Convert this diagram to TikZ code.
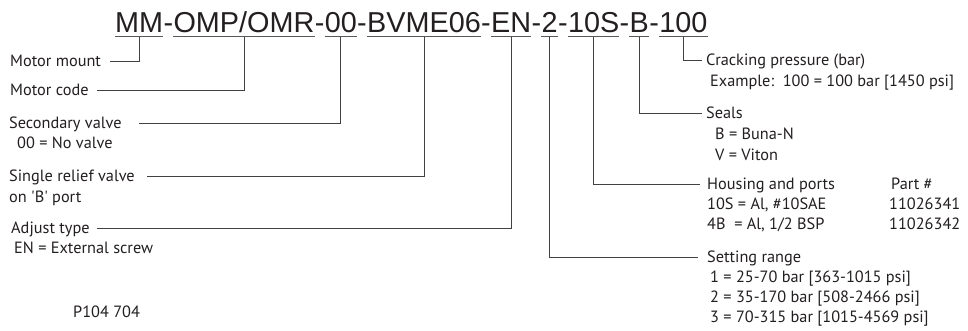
\documentclass[tikz,border=0pt]{standalone}
\usepackage{fontspec}
\newfontfamily\lblfont{PT Sans}
\newfontfamily\titlefont{Liberation Sans}
\definecolor{ink}{HTML}{231F20}
\begin{document}
\begin{tikzpicture}[x=1pt,y=-1pt,
  seg/.style={inner sep=0pt, anchor=base west, text=ink, font=\titlefont\fontsize{28.8}{30}\selectfont},
  lbl/.style={inner sep=0pt, anchor=west, text=ink, font=\lblfont\fontsize{16.3}{18}\selectfont, text height=12pt, text depth=1pt},
  lead/.style={line width=0.9pt, draw=ink!85},
  uline/.style={line width=0.9pt, draw=ink!75}]
\useasboundingbox[fill=white] (0,0) rectangle (968,330);
% code string
\node[seg] (s1) at (115,32) {MM};
\node[seg] (d1) at (s1.base east) {-};
\node[seg] (s2) at (d1.base east) {OMP/OMR};
\node[seg] (d2) at (s2.base east) {-};
\node[seg] (s3) at (d2.base east) {00};
\node[seg] (d3) at (s3.base east) {-};
\node[seg] (s4) at (d3.base east) {BVME06};
\node[seg] (d4) at (s4.base east) {-};
\node[seg] (s5) at (d4.base east) {EN};
\node[seg] (d5) at (s5.base east) {-};
\node[seg] (s6) at (d5.base east) {2};
\node[seg] (d6) at (s6.base east) {-};
\node[seg] (s7) at (d6.base east) {10S};
\node[seg] (d7) at (s7.base east) {-};
\node[seg] (s8) at (d7.base east) {B};
\node[seg] (d8) at (s8.base east) {-};
\node[seg] (s9) at (d8.base east) {100};
\foreach \n in {1,...,9}{
  \draw[uline] ([yshift=-4.5pt]s\n.base west) -- ([yshift=-4.5pt]s\n.base east);
  \coordinate (u\n) at ([yshift=-4.5pt]s\n.base);
}
% left labels
\node[lbl] (mm) at (10,61) {Motor mount};
\node[lbl] (mc) at (10,90) {Motor code};
\node[lbl] (sv) at (9,123) {Secondary valve};
\node[lbl] (sv2) at (17,143) {00 = No valve};
\node[lbl] (sr) at (9,176) {Single relief valve};
\node[lbl] (sr2) at (9,197) {on 'B' port};
\node[lbl] (at) at (11,228) {Adjust type};
\node[lbl] (at2) at (14,248) {EN = External screw};
\node[lbl] (pid) at (73,312) {P104 704};
% right labels
\node[lbl] (cp) at (706,60) {Cracking pressure (bar)};
\node[lbl] (cp2) at (710,81) {Example:\ \ 100 = 100 bar [1450 psi]};
\node[lbl] (se) at (706,113) {Seals};
\node[lbl] (se2) at (715,134) {B = Buna-N};
\node[lbl] (se3) at (715,155) {V = Viton};
\node[lbl] (hp) at (707,184) {Housing and ports};
\node[lbl] (pn) at (891,184) {Part \#};
\node[lbl] (hp2) at (707,204) {10S = Al, \#10SAE};
\node[lbl] (pn2) at (889,204) {11026341};
\node[lbl] (hp3) at (707,224) {4B\ \ = Al, 1/2 BSP};
\node[lbl] (pn3) at (889,224) {11026342};
\node[lbl] (sg) at (707,257) {Setting range};
\node[lbl] (sg1) at (710,277) {1 = 25-70 bar [363-1015 psi]};
\node[lbl] (sg2) at (710,297) {2 = 35-170 bar [508-2466 psi]};
\node[lbl] (sg3) at (710,317) {3 = 70-315 bar [1015-4569 psi]};
% leaders
\draw[lead] (u1) |- ([xshift=9pt]mm.east);
\draw[lead] (u2) |- ([xshift=8pt]mc.east);
\draw[lead] (u3) |- ([xshift=17pt]sv.east);
\draw[lead] (u4) |- ([xshift=12pt]sr.east);
\draw[lead] (u5) |- ([xshift=7pt]at.east);
\draw[lead] (u6) |- ([xshift=-9pt]sg.west);
\draw[lead] (u7) |- ([xshift=-7pt]hp.west);
\draw[lead] (u8) |- ([xshift=-4pt]se.west);
\draw[lead] (u9) |- ([xshift=-4pt]cp.west);
\end{tikzpicture}
\end{document}
